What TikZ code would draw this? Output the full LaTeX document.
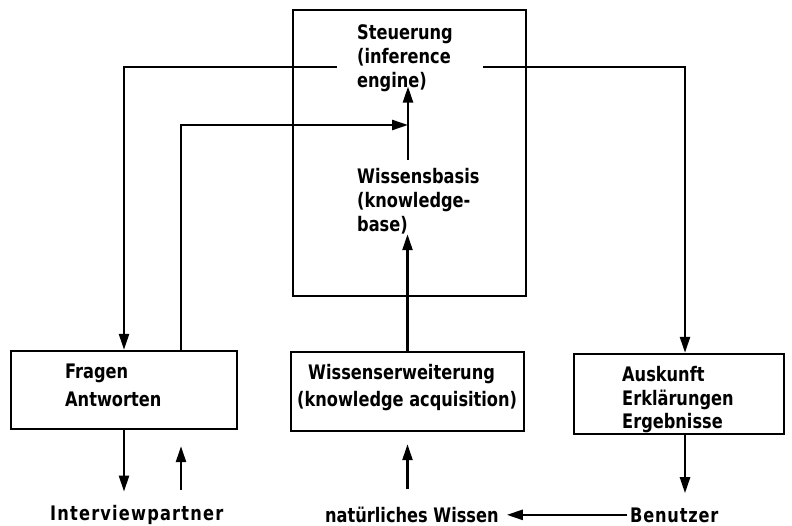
\documentclass[tikz,border=0pt]{standalone}
\usepackage{fontspec}
\setmainfont{DejaVu Sans Condensed Bold}[FakeStretch=0.9]
\usetikzlibrary{arrows.meta}
\begin{document}
\begin{tikzpicture}[x=1pt,y=-1pt,
  box/.style={draw, line width=2.4pt, inner sep=0pt},
  lbl/.style={inner sep=0pt, align=left, font=\fontsize{20}{24}\selectfont},
  arr/.style={line width=2.4pt, -{Triangle[length=16pt,width=10pt]}}]
\useasboundingbox[fill=white] (0,0) rectangle (792,526);
% boxes
\node[box, minimum width=233pt, minimum height=286pt] (kb) at (409.5,153) {};
\node[box, minimum width=226pt, minimum height=78pt] (fa) at (124,390) {};
\node[box, minimum width=233pt, minimum height=79pt] (we) at (407.5,391.5) {};
\node[box, minimum width=210pt, minimum height=80pt] (au) at (679,394) {};
% texts
\node[lbl, anchor=north west] (eng) at (357,24) {Steuerung\\(inference\\engine)};
\node[lbl, anchor=north west] (wb) at (357,168) {Wissensbasis\\(knowledge-\\base)};
\node[lbl, anchor=north west, font=\fontsize{20}{28}\selectfont] (fat) at (65,363.5) {Fragen\\Antworten};
\node[lbl, anchor=north west, font=\fontsize{20}{27}\selectfont] (wet) at (308,364.5) {Wissenserweiterung\\\hspace*{-11pt}(knowledge acquisition)};
\node[lbl, anchor=north west, font=\fontsize{20}{23.5}\selectfont] (aut) at (622,366.5) {Auskunft\\Erklärungen\\Ergebnisse};
\node[lbl, anchor=base west, font=\fontsize{20}{24}\selectfont\addfontfeatures{LetterSpace=6}] (ip) at (50,520) {Interviewpartner};
\node[lbl, anchor=base west] (nw) at (325,522) {natürliches Wissen};
\node[lbl, anchor=base west, font=\fontsize{20}{24}\selectfont\addfontfeatures{LetterSpace=4}] (bz) at (630,522) {Benutzer};
% helper coordinates
\coordinate (engL) at (337,67);
\coordinate (engR) at (483,67);
\coordinate (j) at (408,125);
\coordinate (faR) at ([xshift=57pt]fa.north);
\coordinate (faRs) at ([xshift=57pt]fa.south);
\coordinate (auN) at ([xshift=6pt]au.north);
\coordinate (auS) at ([xshift=6pt]au.south);
% connectors
\draw[arr] (engL) -| (fa.north);
\draw[arr] (engR) -| (auN);
\draw[arr] (faR) |- (j);
\draw[arr, shorten <=8pt, shorten >=-5pt] (wb.north -| j) -- (eng.south -| j);
\draw[arr] (we.north) -- (wb.south -| we.north);
\draw[arr, shorten >=13pt] (fa.south) -- (ip.north -| fa.south);
\draw[arr, shorten <=15pt, shorten >=16pt] (ip.north -| faRs) -- (faRs);
\draw[arr, shorten <=17pt, shorten >=12pt] (nw.north -| we.south) -- (we.south);
\draw[arr, shorten >=14pt] (auS) -- (bz.north -| auS);
\draw[arr, shorten <=3pt, shorten >=8pt] (bz.west) -- (bz.west -| nw.east);
\end{tikzpicture}
\end{document}
